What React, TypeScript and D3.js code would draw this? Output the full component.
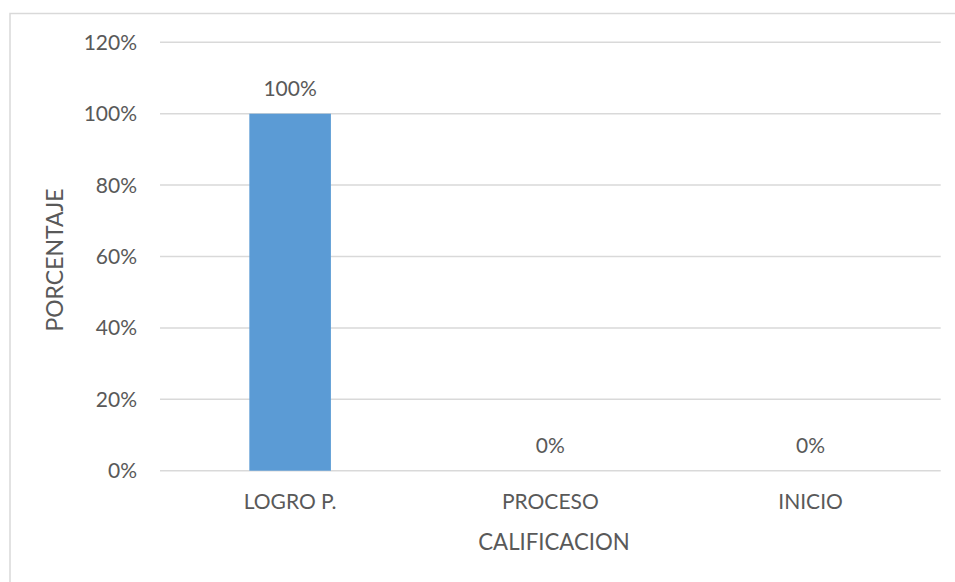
import * as d3 from "d3";

const categories = ["LOGRO P.", "PROCESO", "INICIO"];
const values = [1.0, 0, 0];
const yTicks = [0, 0.2, 0.4, 0.6, 0.8, 1.0, 1.2];

const width = 955;
const height = 582;
const plot = { left: 160, right: 940.7, top: 42.3, bottom: 470.7 };
const textColor = "#595959";
const gridColor = "#D9D9D9";
const font = "Lato, 'Open Sans', sans-serif";

const App = () => {
  const x = d3
    .scaleBand<string>()
    .domain(categories)
    .range([plot.left, plot.right])
    .padding(0);

  const y = d3.scaleLinear().domain([0, 1.2]).range([plot.bottom, plot.top]);

  // excel gap width ~219%
  const barW = x.bandwidth() / 3.19;
  const pct = d3.format(".0%");

  return (
    <svg
      width={width}
      height={height}
      style={{ position: "absolute", left: 0, top: 0, background: "#fff" }}
      fontFamily={font}
    >
      <rect x={0} y={0} width={width} height={height} fill="#fff" />
      {/* chart border */}
      <path
        d={`M10,${height + 2} V13.5 H${width + 2}`}
        fill="none"
        stroke={gridColor}
        strokeWidth={1.5}
      />

      {/* gridlines + y labels */}
      {yTicks.map((t) => (
        <g key={t}>
          <line
            x1={plot.left}
            x2={plot.right}
            y1={y(t)}
            y2={y(t)}
            stroke={gridColor}
            strokeWidth={1.5}
          />
          <text
            x={137}
            y={y(t)}
            dy="0.36em"
            textAnchor="end"
            fontSize={21}
            fill={textColor}
          >
            {pct(t)}
          </text>
        </g>
      ))}

      {/* bars */}
      {categories.map((c, i) => {
        const cx = x(c)! + x.bandwidth() / 2;
        return (
          <g key={c}>
            {values[i] > 0 && (
              <rect
                x={cx - barW / 2}
                y={y(values[i])}
                width={barW}
                height={y(0) - y(values[i])}
                fill="#5B9BD5"
              />
            )}
            <text
              x={cx}
              y={y(values[i]) - 17.5}
              textAnchor="middle"
              fontSize={21}
              fill={textColor}
            >
              {pct(values[i])}
            </text>
            <text
              x={cx}
              y={509}
              textAnchor="middle"
              fontSize={21}
              fill={textColor}
            >
              {c}
            </text>
          </g>
        );
      })}

      {/* axis titles */}
      <text
        x={554}
        y={550}
        textAnchor="middle"
        fontSize={22.2}
        fill={textColor}
      >
        CALIFICACION
      </text>
      <text
        transform={`translate(63,${(plot.top + plot.bottom) / 2 + 3.5}) rotate(-90)`}
        textAnchor="middle"
        fontSize={23}
        fill={textColor}
      >
        PORCENTAJE
      </text>
    </svg>
  );
};

export default App;
